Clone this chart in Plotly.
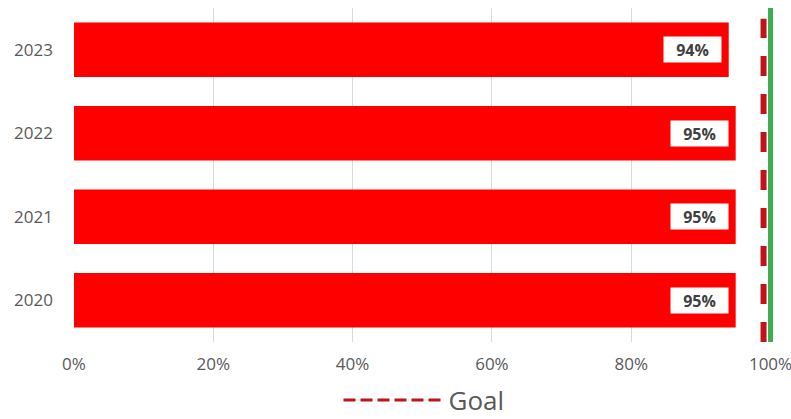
import plotly.graph_objects as go

years = ["2020", "2021", "2022", "2023"]
values = [95, 95, 95, 94]
goal = 99
target = 100
x_ticks = [0, 20, 40, 60, 80, 100]
x_tick_labels = ["0%", "20%", "40%", "60%", "80%", "100%"]

ypos = list(range(len(years)))

fig = go.Figure()
fig.add_trace(go.Bar(
    y=ypos, x=values, orientation="h",
    marker=dict(color="#ff0000", line=dict(width=0)),
    width=0.65, showlegend=False, hoverinfo="skip",
))
# goal line in plot
fig.add_trace(go.Scatter(
    x=[goal, goal], y=[-0.5, 3.37], mode="lines",
    line=dict(color="#c0141c", width=6, dash="20px,18px"),
    name="Goal", showlegend=False, hoverinfo="skip",
))
# legend entry for goal
fig.add_trace(go.Scatter(
    x=[None], y=[None], mode="lines",
    line=dict(color="#c0141c", width=3, dash="12px,5px"),
    name="Goal", showlegend=True,
))
fig.add_shape(type="line", xref="x", yref="paper", x0=target, x1=target, y0=0, y1=1,
              line=dict(color="#3cae4e", width=5))

for yp, v in zip(ypos, values):
    fig.add_annotation(
        x=v, y=yp, xref="x", yref="y", text=f"<b>{v:.0f}%</b>",
        showarrow=False, xanchor="right", xshift=-7,
        bgcolor="white", borderpad=3, width=51, height=19,
        font=dict(family="Open Sans", size=16, color="#404040"),
    )

fig.update_layout(
    width=791, height=419,
    margin=dict(l=74, r=16.5, t=8, b=77),
    plot_bgcolor="white", paper_bgcolor="white",
    font=dict(family="Open Sans", color="#595959", size=17),
    xaxis=dict(range=[0, 100.5], tickvals=x_ticks, ticktext=x_tick_labels,
               showgrid=True, gridcolor="#d9d9d9", gridwidth=1,
               zeroline=False, showline=False, ticks="", automargin=False,
               ticklabelstandoff=10, ticklabeloverflow="allow",
               tickfont=dict(size=17, color="#595959")),
    yaxis=dict(range=[-0.5, 3.5], tickvals=ypos, ticktext=years,
               showgrid=False, zeroline=False, showline=False, ticks="",
               automargin=False, ticklabelstandoff=20,
               tickfont=dict(size=17, color="#595959")),
    legend=dict(orientation="h", x=0.5, xanchor="center",
                yref="container", y=0.045, yanchor="middle",
                itemwidth=100,
                font=dict(size=26, color="#595959")),
    bargap=0.35,
)

fig.write_html("out.html")
